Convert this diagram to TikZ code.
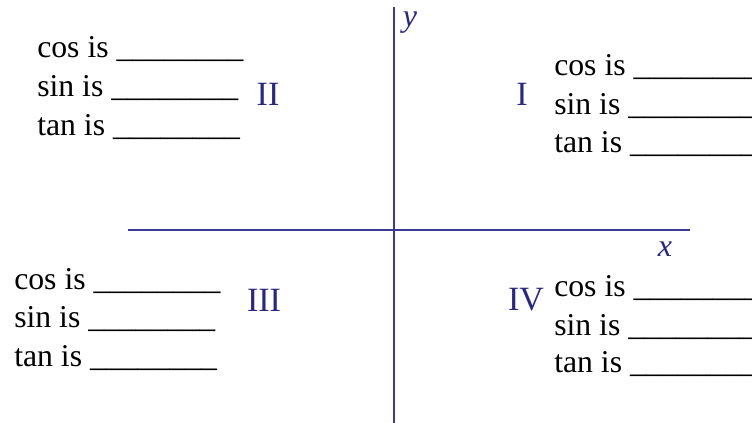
\documentclass[tikz,border=0pt]{standalone}
\usepackage{fontspec}
\setmainfont{LiberationSerif}[Extension=.ttf, UprightFont=*-Regular, ItalicFont=*-Italic, BoldFont=*-Bold]
\definecolor{axisblue}{RGB}{58,58,150}
\definecolor{numblue}{RGB}{40,40,130}
\begin{document}
\begin{tikzpicture}[x=0.75pt,y=-0.75pt,
  lbl/.style={anchor=base west, inner sep=0pt, font=\fontsize{23.8}{28}\selectfont},
  roman/.style={text=numblue, inner sep=0pt, font=\fontsize{25.5}{30}\selectfont},
  axlbl/.style={text=numblue, inner sep=0pt, font=\fontsize{24}{28}\selectfont\itshape},
  axis/.style={draw=axisblue, line width=1.9pt}]
\useasboundingbox (0,0) rectangle (752,423);
\coordinate (yt) at (394,7);
\coordinate (yb) at (394,424);
\coordinate (xl) at (128,230);
\coordinate (xr) at (690,230);
\draw[axis] (yb) -- (yt);
\draw[axis] (xl) -- (xr);
\node[axlbl] (ylab) at (410,23) {y};
\node[axlbl] (xlab) at (665,249) {x};
% quadrant II
\node[lbl] (c2) at (37,58) {cos is \_\_\_\_\_\_\_\_};
\node[lbl] (s2) at (37,97) {sin is \_\_\_\_\_\_\_\_};
\node[lbl] (t2) at (37,136) {tan is \_\_\_\_\_\_\_\_};
\node[roman] (q2) at (268,94) {II};
% quadrant I
\node[lbl] (c1) at (554,76) {cos is \_\_\_\_\_\_\_\_};
\node[lbl] (s1) at (554,115) {sin is \_\_\_\_\_\_\_\_};
\node[lbl] (t1) at (554,153) {tan is \_\_\_\_\_\_\_\_};
\node[roman] (q1) at (522,94) {I};
% quadrant III
\node[lbl] (c3) at (14,290) {cos is \_\_\_\_\_\_\_\_};
\node[lbl] (s3) at (14,328) {sin is \_\_\_\_\_\_\_\_};
\node[lbl] (t3) at (14,367) {tan is \_\_\_\_\_\_\_\_};
\node[roman] (q3) at (264,300) {III};
% quadrant IV
\node[lbl] (c4) at (554,297) {cos is \_\_\_\_\_\_\_\_};
\node[lbl] (s4) at (554,336) {sin is \_\_\_\_\_\_\_\_};
\node[lbl] (t4) at (554,373) {tan is \_\_\_\_\_\_\_\_};
\node[roman] (q4) at (526,300) {IV};
\end{tikzpicture}
\end{document}
